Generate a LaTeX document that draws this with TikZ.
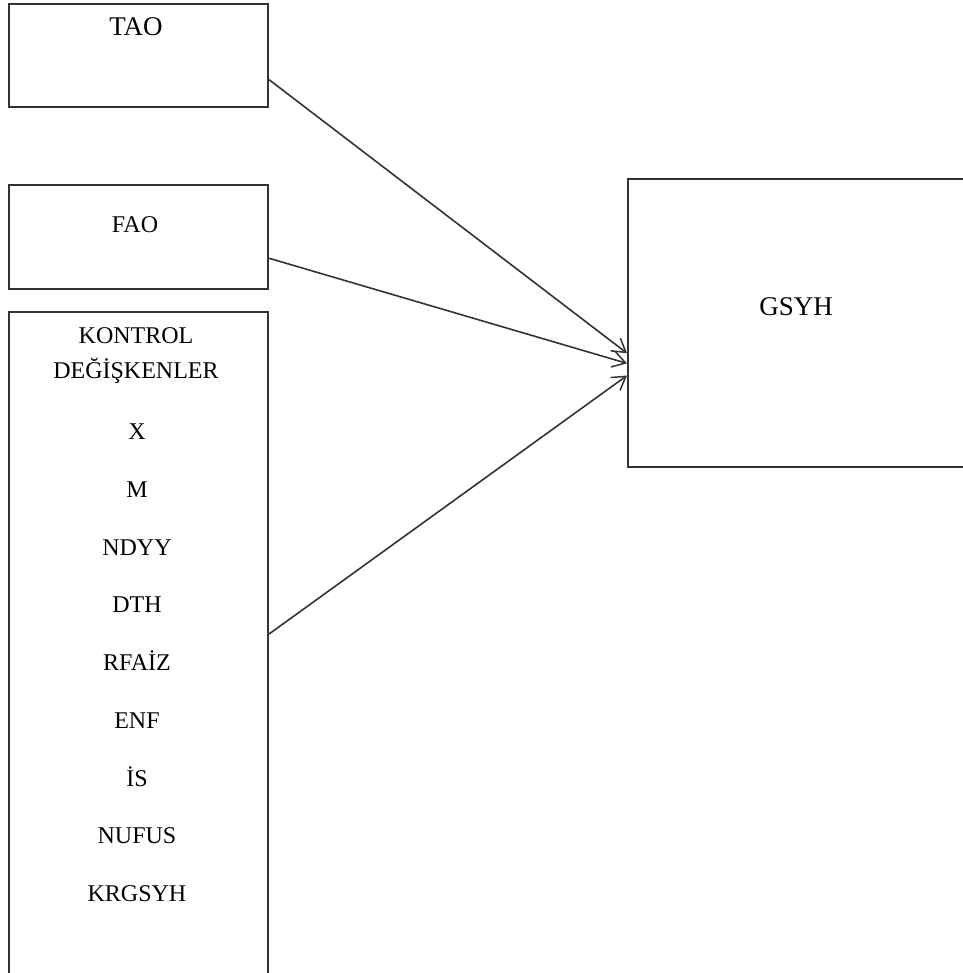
\documentclass[tikz,border=0pt]{standalone}
\usepackage{fontspec}
\setmainfont{Liberation Serif}
\usetikzlibrary{arrows.meta,calc}
\tikzset{
  box/.style={draw=black!80, line width=2.1pt, fill=none, inner sep=0pt, anchor=north west, rectangle},
  lbl/.style={anchor=base, inner sep=0pt, font=\fontsize{24}{28}\selectfont},
  big/.style={anchor=base, inner sep=0pt, font=\fontsize{27}{32}\selectfont},
  conn/.style={draw=black!80, line width=1.6pt, -{Straight Barb[length=13pt,width=16pt,line width=1.5pt]}}
}
\begin{document}
\begin{tikzpicture}[x=1pt,y=-1pt]
\useasboundingbox (0,0) rectangle (962,973);
\node[box, minimum width=259pt, minimum height=103pt] (tao) at (8,3) {};
\node[box, minimum width=259pt, minimum height=104pt] (fao) at (8,184) {};
\node[box, minimum width=259pt, minimum height=700pt] (kon) at (8,311) {};
\node[box, minimum width=350pt, minimum height=288pt] (gsyh) at (627,178) {};

\node[big] (ttao) at (136,36) {TAO};
\node[lbl] (tfao) at (135,233) {FAO};
\node[big] (tgsyh) at (796,315) {GSYH};

\node[lbl] (k1) at (136,343) {KONTROL};
\node[lbl] (k2) at (136,378) {DEĞİŞKENLER};
\node[lbl] (v1) at (137,439) {X};
\node[lbl] (v2) at (137,497) {M};
\node[lbl] (v3) at (137,555) {NDYY};
\node[lbl] (v4) at (137,612) {DTH};
\node[lbl] (v5) at (137,670) {RFAİZ};
\node[lbl] (v6) at (137,728) {ENF};
\node[lbl] (v7) at (137,786) {İS};
\node[lbl] (v8) at (137,843) {NUFUS};
\node[lbl] (v9) at (137,901) {KRGSYH};

\draw[conn] ($(tao.north east)!0.73!(tao.south east)$) -- ($(gsyh.north west)!0.604!(gsyh.south west)$);
\draw[conn] ($(fao.north east)!0.70!(fao.south east)$) -- ($(gsyh.north west)!0.639!(gsyh.south west)$);
\draw[conn] ($(kon.north east)!0.46!(kon.south east)$) -- ($(gsyh.north west)!0.681!(gsyh.south west)$);
\end{tikzpicture}
\end{document}
